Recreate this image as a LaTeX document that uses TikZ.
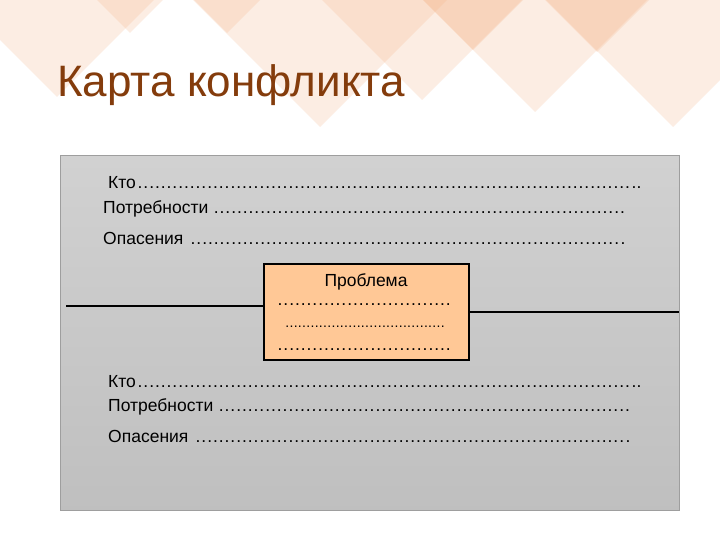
\documentclass[tikz,border=0pt]{standalone}
\usepackage{fontspec}
\setmainfont{Liberation Sans}
\definecolor{pessego}{HTML}{F4B183}
\definecolor{titulo}{HTML}{843C0C}
\definecolor{caixa}{HTML}{FFC896}
\newcommand{\pontos}{\leaders\hbox to 5.8pt{\hss.\hss}\hfill}
\newcommand{\pontinhos}{\leaders\hbox to 4.2pt{\hss.\hss}\hfill}

\begin{document}
\begin{tikzpicture}[x=1pt,y=-1pt,
    texto/.style={anchor=base west,inner sep=0pt,font=\fontsize{17.5}{20}\selectfont}]

  % area da figura
  \useasboundingbox (0,0) rectangle (720,540);
  \fill[white] (0,0) rectangle (720,540);

  % losangos do fundo (centro x, centro y, meia diagonal)
  \begin{scope}
    \clip (0,0) rectangle (720,540);
    \foreach \cx/\cy/\r in {57/-40/137,130/-60/93,227/-60/93,320/-20/147,
                            422/-20/120,473/-60/110,535/-20/132,597/-60/112,673/-20/147}
      \fill[pessego,opacity=0.22] (\cx-\r,\cy) -- (\cx,\cy+\r) -- (\cx+\r,\cy) -- (\cx,\cy-\r) -- cycle;
  \end{scope}

  % titulo
  \node[anchor=base west,inner sep=0pt,text=titulo,font=\fontsize{44}{50}\selectfont]
    (titulo) at (57,97) {Карта конфликта};

  % painel cinza
  \node[draw=black!38,top color=black!18,bottom color=black!25,inner sep=0pt,
        minimum width=619pt,minimum height=355pt,anchor=north west] (painel) at (60,155) {};

  % linhas de cima
  \node[texto] (quem1) at (108,189) {\hbox to 533pt{Кто\pontos\kern1pt..}};
  \node[texto] (nec1) at (103,214) {\hbox to 524pt{Потребности \pontos}};
  \node[texto] (medo1) at (103,244) {\hbox to 522pt{Опасения \pontos.}};

  % caixa do problema
  \node[draw,line width=1.6pt,fill=caixa,inner sep=0pt,
        minimum width=205pt,minimum height=96pt,anchor=north west] (problema) at (263,263) {};
  \node[anchor=base,inner sep=0pt,font=\fontsize{17.5}{20}\selectfont] (rotulo) at (366,286) {Проблема};
  \node[texto] (p1) at (277,305) {\hbox to 178pt{\pontos}};
  \node[texto,font=\fontsize{14}{16}\selectfont] (p2) at (285,327) {\hbox to 162pt{\pontinhos}};
  \node[texto] (p3) at (277,350) {\hbox to 178pt{\pontos}};

  % eixo do conflito
  \coordinate (esq) at (66,306);
  \coordinate (dir) at (679,312);
  \draw[line width=1.2pt] (esq) -- (esq -| problema.west);
  \draw[line width=1.2pt] (problema.east |- dir) -- (dir);

  % linhas de baixo
  \node[texto] (quem2) at (108,387) {\hbox to 533pt{Кто\pontos\kern1pt..}};
  \node[texto] (nec2) at (108,411) {\hbox to 526pt{Потребности \pontos}};
  \node[texto] (medo2) at (108,442) {\hbox to 522pt{Опасения \pontos.}};

\end{tikzpicture}
\end{document}
